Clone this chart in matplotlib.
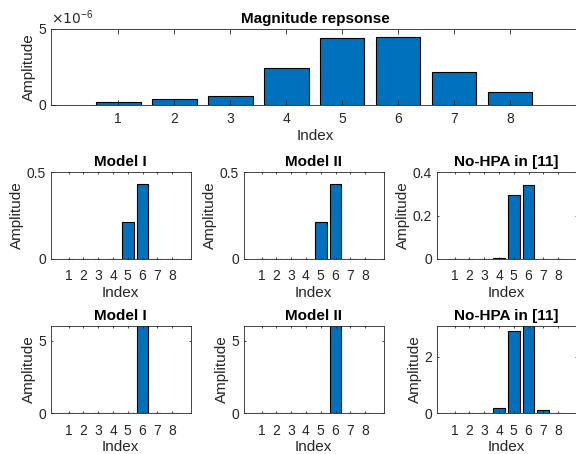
import matplotlib
matplotlib.use("Agg")
import matplotlib.pyplot as plt
import numpy as np

plt.rcParams['font.family'] = ['Liberation Sans', 'DejaVu Sans']

idx = np.arange(1, 9)

# magnitude response (x 1e-6)
mag = np.array([0.18, 0.37, 0.57, 2.46, 4.38, 4.47, 2.15, 0.83]) * 1e-6

# middle row
model1_a = [0, 0, 0, 0, 0.21, 0.43, 0, 0]
model2_a = [0, 0, 0, 0, 0.21, 0.43, 0, 0]
nohpa_a = [0.0005, 0.0005, 0.0008, 0.003, 0.294, 0.34, 0.002, 0.0008]

# bottom row (bar 6 goes off the top of the axes)
model1_b = [0, 0, 0, 0, 0, 10.0, 0, 0]
model2_b = [0, 0, 0, 0, 0, 10.0, 0, 0]
nohpa_b = [0, 0, 0, 0.18, 2.91, 5.0, 0.10, 0]

blue = '#0072BD'
grey = '#262626'
W, H = 576, 454


def style(ax, ticklen, xpad):
    for s in ax.spines.values():
        s.set_color(grey)
        s.set_linewidth(0.6)
    ax.tick_params(direction='in', length=ticklen, width=0.6, colors=grey,
                   labelsize=10, top=True, right=True, labelcolor=grey)
    ax.tick_params(axis='x', pad=xpad)
    ax.set_xticks(idx)
    ax.set_xlim(-0.2, 9.25)


def box(l, t, r, b):
    return [l / W, 1 - b / H, (r - l) / W, (b - t) / H]


fig = plt.figure(figsize=(W / 100, H / 100), dpi=100)

# top panel
ax = fig.add_axes(box(51, 29, 580, 105))
ax.bar(idx, mag, width=0.8, color=blue, edgecolor='black', linewidth=0.8)
style(ax, 3.6, 5.0)
ax.set_ylim(0, 5e-6)
ax.set_yticks([0, 5e-6])
ax.set_yticklabels(['0', '5'])
ax.set_title('Magnitude repsonse', fontsize=11, fontweight='bold', pad=4)
ax.set_xlabel('Index', fontsize=11, color=grey, labelpad=2)
ax.set_ylabel('Amplitude', fontsize=11, color=grey, labelpad=2)
ax.text(0.0, 1.02, r'$\times10^{\mathregular{-6}}$', transform=ax.transAxes,
        fontsize=10, color=grey, ha='left', va='bottom')

lefts = [51, 244, 437]
w = 139.5
rows = [
    (172, 259, [model1_a, model2_a, nohpa_a],
     [(0, 0.5, [0, 0.5], ['0', '0.5']), (0, 0.5, [0, 0.5], ['0', '0.5']),
      (0, 0.4, [0, 0.2, 0.4], ['0', '0.2', '0.4'])]),
    (325.7, 413.3, [model1_b, model2_b, nohpa_b],
     [(0, 6.05, [0, 5], ['0', '5']), (0, 6.05, [0, 5], ['0', '5']),
      (0, 3.1, [0, 2], ['0', '2'])]),
]
titles = ['Model I', 'Model II', 'No-HPA in [11]']

for top, bot, datas, lims in rows:
    for l, d, lim, t in zip(lefts, datas, lims, titles):
        ax = fig.add_axes(box(l, top, l + w, bot))
        ax.bar(idx, d, width=0.8, color=blue, edgecolor='black', linewidth=0.8)
        style(ax, 1.6, 7.5)
        ax.set_ylim(lim[0], lim[1])
        ax.set_yticks(lim[2])
        ax.set_yticklabels(lim[3])
        ax.set_title(t, fontsize=11, fontweight='bold', pad=4)
        ax.set_xlabel('Index', fontsize=11, color=grey, labelpad=2)
        ax.set_ylabel('Amplitude', fontsize=11, color=grey, labelpad=2)

fig.savefig('out.png', dpi=100)
